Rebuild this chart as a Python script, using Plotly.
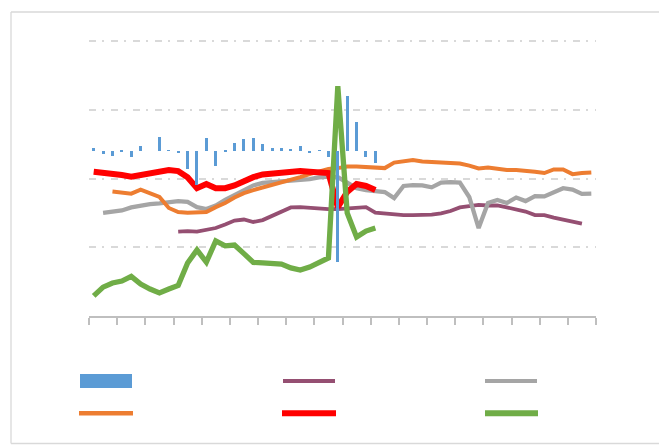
import plotly.graph_objects as go

N = 54
categories = list(range(N))

# Secondary-axis bar series (blue), None = no value
bar_values = [0.5, -0.55, -1.0, -0.27, -1.1, 0.82, 0, 2.5, 0.13, -0.45,
              -3.3, -6.2, 2.3, -2.7, -0.05, 1.4, 2.1, 2.3, 1.27, 0.6,
              0.6, 0.42, 0.9, -0.42, 0.05, -1.04, -20.2, 10.0, 5.3, -1.04,
              -2.24] + [None] * 23

purple = [None] * 9 + [30.7, 30.9, 30.7, 31.3, 32.0, 33.3, 34.7, 35.1, 34.2, 34.9,
                       36.5, 38.0, 39.5, 39.6, 39.3, 39.1, 38.9, 38.9, 39.1, 39.3,
                       39.6, 37.6, 37.3, 36.7, 36.7, 36.7, 36.7, 36.9, 37.3, 38.2,
                       39.5, 40.0, 40.4, 40.2, 40.2, 39.5, 38.7, 38.0, 36.7, 36.7,
                       35.8, 35.1, 34.5, 33.6] + [None]

gray = [None, 37.5, 37.8, 38.4, 39.5, 40.2, 40.7, 41.0, 41.3, 41.8,
        41.5, 39.6, 38.9, 40.2, 42.2, 44.0, 46.0, 47.5, 48.4, 48.7,
        48.9, 49.1, 49.5, 49.8, 50.4, 50.7, 50.5, 48.7, 46.5, 45.8,
        45.5, 45.1, 42.9, 47.3, 47.6, 47.5, 46.8, 48.5, 48.7, 48.5,
        43.3, 32.0, 41.1, 42.2, 41.1, 43.1, 41.8, 43.6, 43.5, 45.1,
        46.5, 46.0, 44.4, 44.5]

orange = [None, None, 45.3, 44.9, 44.5, 46.0, 44.7, 43.3, 39.3, 37.8,
          37.6, 37.6, 37.8, 39.6, 41.1, 43.1, 44.7, 45.8, 46.7, 47.8,
          48.5, 49.3, 50.5, 51.6, 52.5, 53.5, 53.8, 54.4, 54.4, 54.2,
          53.8, 53.8, 55.8, 56.2, 56.7, 56.2, 56.0, 55.8, 55.6, 55.5,
          54.7, 53.7, 54.0, 53.6, 53.1, 53.1, 52.9, 52.5, 52.0, 53.3,
          53.3, 51.6, 52.0, 52.2]

red = [52.5, 52.2, 51.9, 51.3, 50.7, 51.3, 52.0, 52.7, 53.1, 52.7,
       50.5, 46.5, 48.0, 46.5, 46.5, 47.5, 49.1, 50.5, 51.5, 51.8,
       52.2, 52.5, 52.7, 52.5, 52.4, 52.0, 39.6, 45.1, 48.0, 47.3,
       45.8] + [None] * 23

green = [7.3, 10.5, 12.0, 12.7, 14.4, 11.6, 9.8, 8.4, 9.8, 11.1,
         19.3, 24.0, 19.6, 27.3, 25.5, 25.8, 22.7, 19.5, 19.3, 19.3,
         18.9, 17.5, 16.7, 17.8, 19.6, 21.1, 83.6, 37.5, 28.7, 30.9,
         32.0] + [None] * 23

C_BLUE = "#5b9bd5"
C_PURPLE = "#954f72"
C_GRAY = "#a5a5a5"
C_ORANGE = "#ed7d31"
C_RED = "#ff0000"
C_GREEN = "#70ad47"

W, H = 659, 445
L, R, T, B = 89, 63, 40, 129
PW, PH = W - L - R, H - T - B


def px(x):
    return (x - L) / PW


def py(y):
    return (H - B - y) / PH


fig = go.Figure()
fig.add_trace(go.Bar(x=categories, y=bar_values, yaxis="y2", marker_color=C_BLUE,
                     marker_line_width=0, width=0.32, showlegend=False))
for vals, col, w in [(purple, C_PURPLE, 3.8), (gray, C_GRAY, 4.3), (orange, C_ORANGE, 4.0),
                     (red, C_RED, 6.0), (green, C_GREEN, 5.3)]:
    fig.add_trace(go.Scatter(x=categories, y=vals, mode="lines",
                             line=dict(color=col, width=w), connectgaps=False,
                             showlegend=False, hoverinfo="skip"))

shapes = []
# chart border (left, top, bottom; right edge lies outside the window)
border = dict(color="#d9d9d9", width=1.3)
for (x0, y0, x1, y1) in [(11, 12, 11, 443.5), (11, 12, 700, 12), (11, 443.5, 700, 443.5)]:
    shapes.append(dict(type="line", xref="paper", yref="paper",
                       x0=px(x0), x1=px(x1), y0=py(y0), y1=py(y1),
                       line=border, layer="below"))
# legend keys
shapes.append(dict(type="rect", xref="paper", yref="paper",
                   x0=px(80), x1=px(132), y0=py(388), y1=py(374),
                   line=dict(width=0), fillcolor=C_BLUE))
for (x0, x1, y, col, w) in [(283, 335, 381, C_PURPLE, 4), (485, 537, 381, C_GRAY, 4),
                            (79, 133, 413.3, C_ORANGE, 4.5), (282, 336, 413.3, C_RED, 6),
                            (485, 538, 413.3, C_GREEN, 6)]:
    shapes.append(dict(type="line", xref="paper", yref="paper",
                       x0=px(x0), x1=px(x1), y0=py(y), y1=py(y),
                       line=dict(color=col, width=w)))

fig.update_layout(
    width=W, height=H,
    margin=dict(l=L, r=R, t=T, b=B),
    paper_bgcolor="white", plot_bgcolor="white",
    showlegend=False,
    bargap=0,
    shapes=shapes,
    xaxis=dict(range=[-0.5, N - 0.5], tickmode="linear", tick0=-0.5, dtick=3,
               ticks="outside", ticklen=7, tickwidth=1.5, tickcolor="#bfbfbf",
               showticklabels=False, showgrid=False, zeroline=False,
               showline=True, linecolor="#bfbfbf", linewidth=1.5),
    yaxis=dict(range=[0, 100.4], tickmode="linear", tick0=0, dtick=25,
               showticklabels=False, ticks="", showgrid=True,
               gridcolor="#d9d9d9", gridwidth=1.5, griddash="7px,6px,2px,7px",
               zeroline=False, showline=False),
    yaxis2=dict(range=[-30, 20.18], overlaying="y", side="right", visible=False,
                showgrid=False, zeroline=False),
)

fig.write_html("out.html", config={"displayModeBar": False},
               post_script="document.body.style.margin='0';")
